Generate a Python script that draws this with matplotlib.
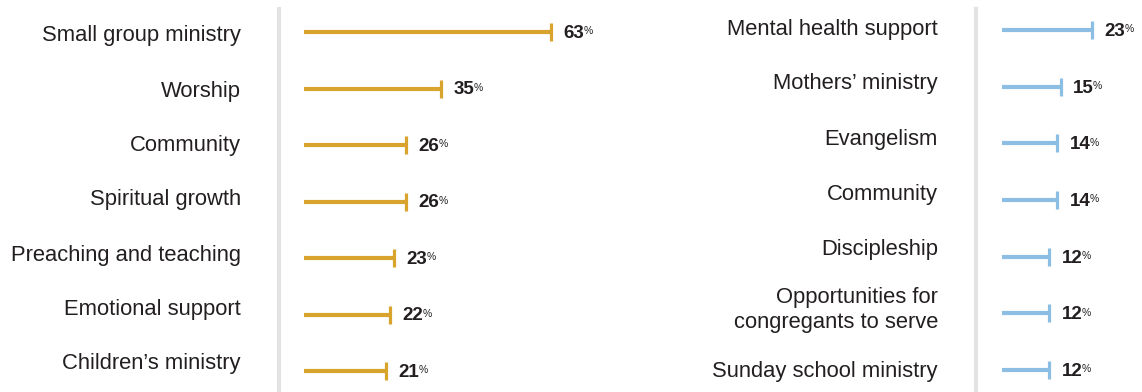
import matplotlib.pyplot as plt
from matplotlib.lines import Line2D

plt.rcParams['font.family'] = ['Liberation Sans', 'DejaVu Sans']

left_labels = ["Small group ministry", "Worship", "Community", "Spiritual growth",
               "Preaching and teaching", "Emotional support", "Children\u2019s ministry"]
left_values = [63, 35, 26, 26, 23, 22, 21]

right_labels = ["Mental health support", "Mothers\u2019 ministry", "Evangelism", "Community",
                "Discipleship", "Opportunities for\ncongregants to serve", "Sunday school ministry"]
right_values = [23, 15, 14, 14, 12, 12, 12]

GOLD = "#D8A42E"
BLUE = "#8CBDE2"
INK = "#231F20"
W, H = 1142, 392
PX_PER_PCT = 3.92

# vertical centres (px from top) of the category labels in each column
left_label_px = [35, 91, 146, 200, 255, 309, 364]
right_label_px = [29, 84, 139, 194, 249, 310, 372]

fig = plt.figure(figsize=(W / 100, H / 100), dpi=100)
renderer = fig.canvas.get_renderer()


def panel(x0, xmax, top_px, bottom_px, label_px, labels, values, color, sep_x):
    n = len(values)
    step = (bottom_px - top_px) / (n - 1)
    ax = fig.add_axes([x0 / W, 0, xmax * PX_PER_PCT / W, 1])
    ax.set_xlim(0, xmax)
    ax.set_ylim(n - 1 + (H - bottom_px) / step, -top_px / step)
    ax.axis('off')
    for i, v in enumerate(values):
        ax.plot([0, v], [i, i], color=color, lw=3, solid_capstyle='butt')
        ax.plot(v, i, marker='|', ms=12.5, mew=2.3, color=color)
        num = ax.annotate(str(v), (v, i), xytext=(9, -1), textcoords='offset points',
                          ha='left', va='center', fontsize=13.5, fontweight='bold', color=INK)
        # small raised percent sign right after the number
        bb = num.get_window_extent(renderer)
        fig.text((bb.x1 - 1) / W, (bb.y1 - 1.5) / H, "%", ha='left', va='top',
                 fontsize=7.5, color=INK)
    # category labels, right aligned left of the separator
    for lab, ypx in zip(labels, label_px):
        fig.text((sep_x - 38) / W, 1 - ypx / H, lab, ha='right', va='center',
                 fontsize=15.8, color=INK, linespacing=1.2)
    fig.add_artist(Line2D([sep_x / W, sep_x / W], [0, 1 - 9 / H],
                          color="#E3E3E3", lw=3, transform=fig.transFigure))
    return ax


panel(304, 70, 32, 371, left_label_px, left_labels, left_values, GOLD, 279)
panel(1002, 34, 30, 370, right_label_px, right_labels, right_values, BLUE, 976)

fig.savefig("out.png", dpi=100, facecolor="white")
